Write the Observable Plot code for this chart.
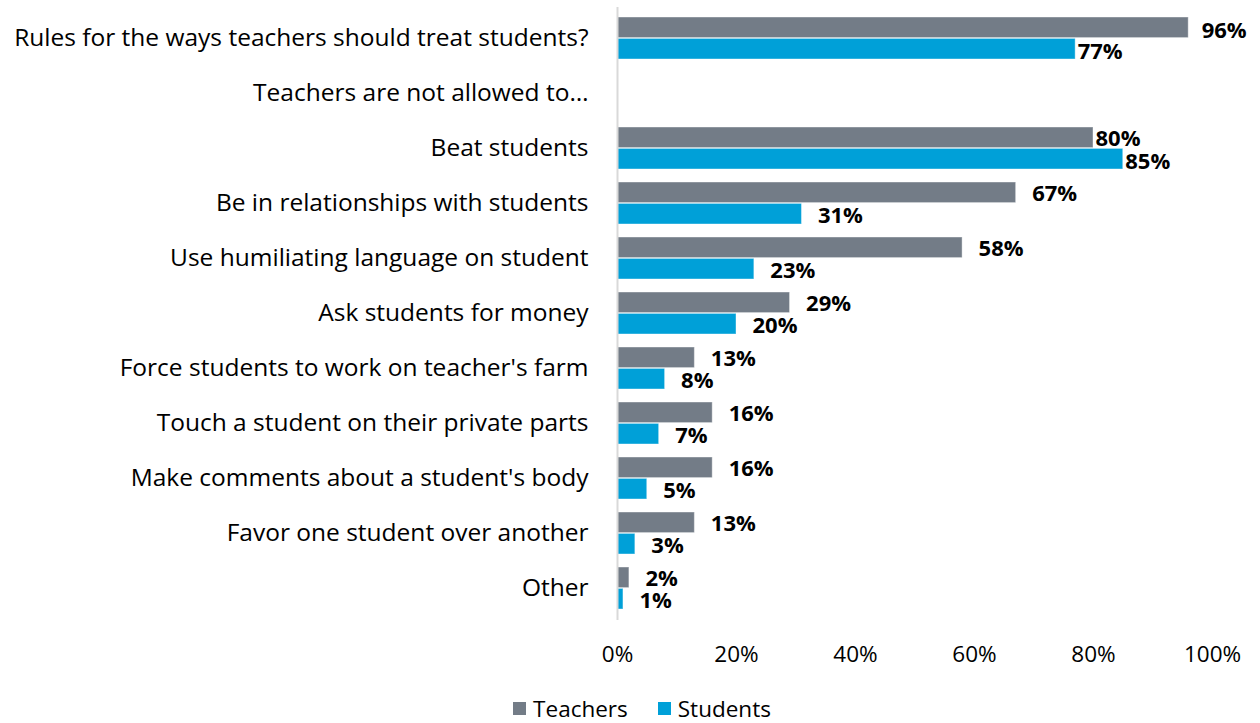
<!DOCTYPE html>
<html><head><meta charset="utf-8">
<script src="https://cdn.jsdelivr.net/npm/d3@7"></script>
<script src="https://cdn.jsdelivr.net/npm/@observablehq/plot@0.6"></script>
<style>
body{margin:0;background:#fff;font-family:"Open Sans",sans-serif;overflow:hidden;}
#legend{display:flex;justify-content:center;gap:30px;font-size:22.5px;line-height:24px;color:#000;margin-left:24px;margin-top:17px;}
#legend span.sw{display:inline-block;width:13px;height:13px;margin-right:7px;vertical-align:middle;position:relative;top:-2px}
</style>
</head><body><div id="chart"></div><div id="legend"></div><script>
const categories = [
  "Rules for the ways teachers should treat students?",
  "Teachers are not allowed to…",
  "Beat students",
  "Be in relationships with students",
  "Use humiliating language on student",
  "Ask students for money",
  "Force students to work on teacher's farm",
  "Touch a student on their private parts",
  "Make comments about a student's body",
  "Favor one student over another",
  "Other"
];
const teachers = [96, null, 80, 67, 58, 29, 13, 16, 16, 13, 2];
const students = [77, null, 85, 31, 23, 20, 8, 7, 5, 3, 1];
const seriesNames = ["Teachers", "Students"];
const seriesColors = ["#737c87", "#00a0d8"];
const xTicks = [0, 20, 40, 60, 80, 100];

const tRows = categories.map((c, i) => ({category: c, value: teachers[i]})).filter(d => d.value != null);
const sRows = categories.map((c, i) => ({category: c, value: students[i]})).filter(d => d.value != null);
const nearEdge = new Set([categories[0], categories[2]]);

const half = 21.4;
const labelFont = {fontSize: 22, fontWeight: "bold", fill: "#000", textAnchor: "start"};

const chart = Plot.plot({
  width: 1260,
  height: 680,
  marginLeft: 617,
  marginRight: 48,
  marginTop: 7,
  marginBottom: 60,
  style: {fontFamily: "'Open Sans', sans-serif", fontSize: "24px", color: "#000", background: "#fff"},
  x: {domain: [0, 100], label: null},
  y: {domain: categories, paddingInner: 0.23, paddingOuter: 0.115, label: null},
  marks: [
    Plot.axisY({tickSize: 0, tickPadding: 29, fontSize: 24.5, label: null}),
    Plot.axisX({ticks: xTicks, tickFormat: d => d + "%", tickSize: 0, tickPadding: 26, fontSize: 22.5, label: null}),
    Plot.barX(tRows, {y: "category", x: "value", fill: seriesColors[0], insetBottom: half, stroke: "#fff", strokeOpacity: 0.4, strokeWidth: 1}),
    Plot.barX(sRows, {y: "category", x: "value", fill: seriesColors[1], insetTop: half, stroke: "#fff", strokeOpacity: 0.4, strokeWidth: 1}),
    Plot.ruleX([0], {stroke: "#d9d9d9", strokeWidth: 2}),
    Plot.text(tRows.filter(d => !nearEdge.has(d.category)), {y: "category", x: "value", text: d => d.value + "%", dx: 16, dy: -half / 2 + 1, ...labelFont}),
    Plot.text(sRows.filter(d => !nearEdge.has(d.category)), {y: "category", x: "value", text: d => d.value + "%", dx: 16, dy: half / 2 + 2, ...labelFont}),
    Plot.text(tRows.filter(d => d.category === categories[0]), {y: "category", x: "value", text: d => d.value + "%", dx: 13, dy: -half / 2 + 3, ...labelFont}),
    Plot.text(tRows.filter(d => d.category === categories[2]), {y: "category", x: "value", text: d => d.value + "%", dx: 2, dy: -half / 2 + 1, ...labelFont}),
    Plot.text(sRows.filter(d => nearEdge.has(d.category)), {y: "category", x: "value", text: d => d.value + "%", dx: 2, dy: half / 2 + 3, ...labelFont})
  ]
});
document.getElementById("chart").appendChild(chart);

const legend = document.getElementById("legend");
seriesNames.forEach((name, i) => {
  const item = document.createElement("div");
  item.innerHTML = `<span class="sw" style="background:${seriesColors[i]}"></span>${name}`;
  legend.appendChild(item);
});
</script></body></html>
